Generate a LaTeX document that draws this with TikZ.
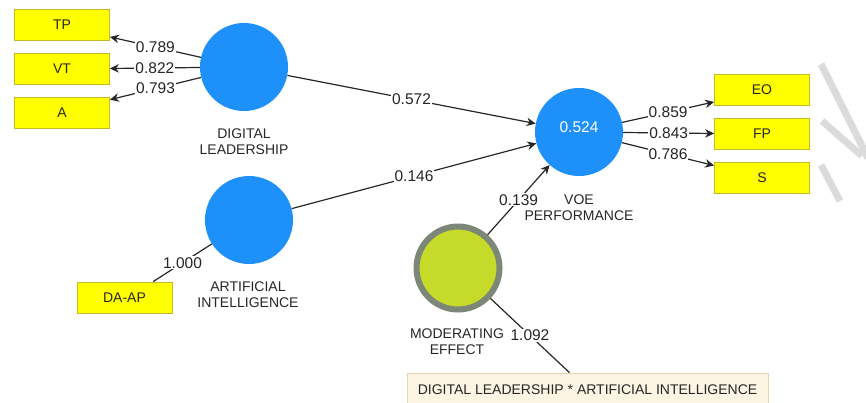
\documentclass[tikz,border=0pt]{standalone}
\usepackage{fontspec}
\setmainfont{Liberation Sans}
\usetikzlibrary{arrows.meta}

\definecolor{latentblue}{RGB}{30,144,250}
\definecolor{indyellow}{RGB}{255,255,0}
\definecolor{indborder}{RGB}{196,186,40}
\definecolor{modfill}{RGB}{198,218,42}
\definecolor{modborder}{RGB}{125,135,120}
\definecolor{prodfill}{RGB}{253,245,228}
\definecolor{prodborder}{RGB}{228,212,176}

\begin{document}
\begin{tikzpicture}[x=1pt,y=-1pt,
    every node/.style={font=\fontsize{14}{16}\selectfont,text=black!85},
    latentvar/.style={circle,fill=latentblue,minimum size=88pt,inner sep=0pt},
    indicator/.style={rectangle,draw=indborder,fill=indyellow,line width=.8pt,
      minimum width=95pt,minimum height=31pt,inner sep=0pt},
    caption/.style={align=center,inner sep=0pt},
    link/.style={draw=black!85,line width=1.2pt},
    coef/.style={midway,fill=white,inner sep=1pt,font=\fontsize{15.5}{16}\selectfont},
    >={Stealth[length=9pt,width=8.5pt]}]
        \useasboundingbox (0,0) rectangle (866,402);
        % hatched marks at the right edge
        \draw[gray!28,line width=7pt] (821,64) -- (868,158);
        \draw[gray!28,line width=7pt] (822,121) -- (862,156);
        \draw[gray!28,line width=7pt] (821,165) -- (840,201);
        % latent variables
        \node[latentvar,label={[text=white,yshift=5pt,font=\fontsize{15.5}{16}\selectfont]center:0.524}] (voe) at (579,132) {};
        \node[latentvar] (dl) at (244,67) {};
        \node[latentvar] (ai) at (249,220) {};
        \node[circle,fill=modfill,draw=modborder,line width=6pt,minimum size=83pt,inner sep=0pt] (mod) at (458,268) {};
        \node[caption] (dlname) at (244,141.5) {DIGITAL\\LEADERSHIP};
        \node[caption] (ainame) at (248,294.5) {ARTIFICIAL\\INTELLIGENCE};
        \node[caption] (voename) at (579,207.5) {VOE\\PERFORMANCE};
        \node[caption] (modname) at (457,341.5) {MODERATING\\EFFECT};
        % indicators
        \node[indicator] (tp) at (62,25) {TP};
        \node[indicator] (vt) at (62,68.5) {VT};
        \node[indicator] (a) at (62,112.5) {A};
        \node[indicator] (daap) at (124.5,297.5) {DA-AP};
        \node[indicator] (eo) at (762,90) {EO};
        \node[indicator] (fp) at (762,133.5) {FP};
        \node[indicator] (s) at (762,177.5) {S};
        \node[rectangle,draw=prodborder,fill=prodfill,line width=.8pt,minimum width=361pt,
          minimum height=34pt] (prod) at (587.5,390) {DIGITAL LEADERSHIP * ARTIFICIAL INTELLIGENCE};
        % loadings
        \draw[link,->] (dl) -- (tp.-14) node[coef] {0.789};
        \draw[link,->] (dl) -- (vt.east) node[coef] {0.822};
        \draw[link,->] (dl) -- (a.15) node[coef] {0.793};
        \draw[link] (ai) -- (daap.29) node[coef] {1.000};
        \draw[link,->] (voe) -- (eo.194) node[coef] {0.859};
        \draw[link,->] (voe) -- (fp.west) node[coef] {0.843};
        \draw[link,->] (voe) -- (s.166) node[coef] {0.786};
        \draw[link] (mod) -- (prod.136) node[coef] {1.092};
        % paths
        \draw[link,->] (dl) -- (voe) node[coef] {0.572};
        \draw[link,->] (ai) -- (voe) node[coef] {0.146};
        \draw[link,->] (mod) -- (voe) node[coef] {0.139};
\end{tikzpicture}
\end{document}
